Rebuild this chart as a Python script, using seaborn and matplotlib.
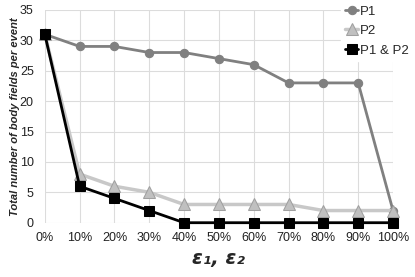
import numpy as np
import pandas as pd
import matplotlib
matplotlib.use("Agg")
import matplotlib.pyplot as plt
import seaborn as sns

eps = [0, 10, 20, 30, 40, 50, 60, 70, 80, 90, 100]
tick_labels = [f"{e}%" for e in eps]
p1 = [31, 29, 29, 28, 28, 27, 26, 23, 23, 23, 2]
p2 = [31, 8, 6, 5, 3, 3, 3, 3, 2, 2, 2]
p1p2 = [31, 6, 4, 2, 0, 0, 0, 0, 0, 0, 0]

df = pd.DataFrame({"eps": eps, "P1": p1, "P2": p2, "P1 & P2": p1p2})

sns.set_theme(style="whitegrid")
plt.rcParams['font.family'] = ['Liberation Sans', 'DejaVu Sans']

fig = plt.figure(figsize=(4.15, 2.77), dpi=100)
ax = fig.add_axes([0.108, 0.196, 0.839, 0.768])

sns.lineplot(data=df, x="eps", y="P1", ax=ax, color="#808080", lw=2,
             marker="o", markersize=6, markeredgecolor="#808080", label="P1")
sns.lineplot(data=df, x="eps", y="P2", ax=ax, color="#c8c8c8", lw=2.5,
             marker="^", markersize=8, markeredgecolor="#a0a0a0",
             markerfacecolor="#c0c0c0", label="P2")
sns.lineplot(data=df, x="eps", y="P1 & P2", ax=ax, color="black", lw=2,
             marker="s", markersize=6.5, markeredgecolor="black", label="P1 & P2")

ax.set_xlim(0, 100)
ax.set_ylim(0, 35)
ax.set_xticks(eps)
ax.set_xticklabels(tick_labels)
ax.set_yticks(range(0, 36, 5))
ax.tick_params(axis="x", labelsize=9, colors="#222222", pad=7, length=0)
ax.tick_params(axis="y", labelsize=9, colors="#222222", pad=8, length=0)
for s in ax.spines.values():
    s.set_visible(False)
ax.grid(True, color="#dcdcdc", lw=0.8)
for l in ax.lines:
    l.set_clip_on(False)

ax.set_ylabel("Total number of body fields per event", fontsize=8,
              fontweight="bold", fontstyle="italic", labelpad=0)
ax.set_xlabel("ε₁, ε₂", fontsize=14, fontweight="bold", fontstyle="italic",
              family=["DejaVu Sans"], labelpad=3)

ax.get_legend().remove()
h, lab = ax.get_legend_handles_labels()
leg = fig.legend(h, lab, loc="upper left", bbox_to_anchor=(0.822, 0.995),
                 frameon=True, fontsize=9.5, handlelength=1.0, handletextpad=0.15,
                 borderpad=0.3, labelspacing=0.55, facecolor="white",
                 edgecolor="white", framealpha=1, borderaxespad=0)

fig.savefig("out.png", dpi=100)
